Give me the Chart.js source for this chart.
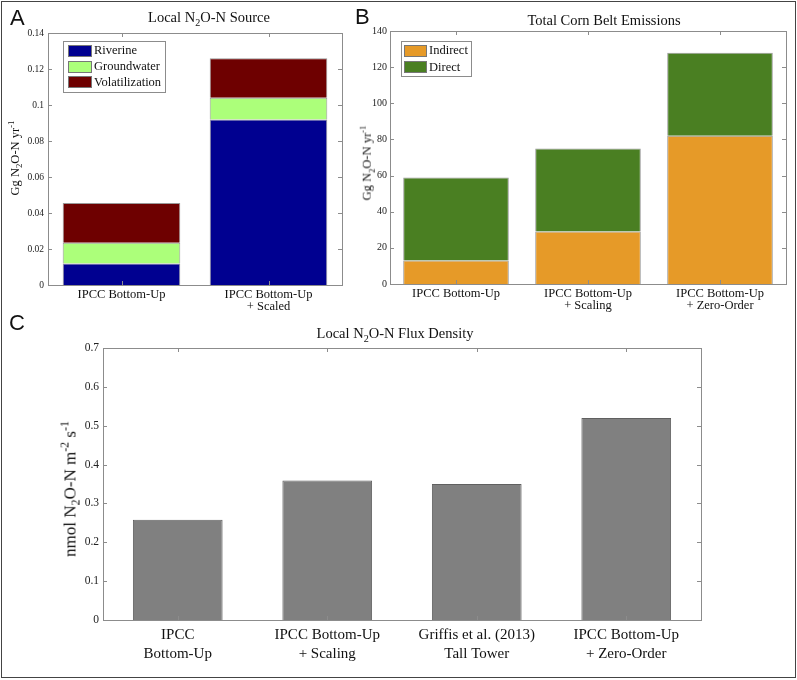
<!DOCTYPE html>
<html>
<head>
<meta charset="utf-8">
<script src="https://cdn.jsdelivr.net/npm/chart.js@4.4.0/dist/chart.umd.min.js"></script>
<style>
  body { margin: 0; background: #fff; }
  #fig { position: relative; width: 797px; height: 680px; overflow: hidden; font-family: "Liberation Serif", serif; color: #111; }
  #frame { position: absolute; left: 1px; top: 1px; width: 795px; height: 677px; box-sizing: border-box; border: 1px solid #444; }
  canvas { position: absolute; }
  .letter { position: absolute; font-family: "Liberation Sans", Arial, sans-serif; font-size: 22px; line-height: 1; }
  .ttl { position: absolute; font-size: 14.5px; line-height: 1; white-space: nowrap; transform: translateX(-50%); }
  .ylab { position: absolute; white-space: nowrap; line-height: 1; transform: translate(-50%, -50%) rotate(-90deg); }
  sub, sup { font-size: 70%; line-height: 0; }
</style>
</head>
<body>
<div id="fig">
  <div id="frame"></div>
  <canvas id="chartA" width="350" height="325" style="left:0;top:0"></canvas>
  <canvas id="chartB" width="447" height="325" style="left:350px;top:0"></canvas>
  <canvas id="chartC" width="797" height="355" style="left:0;top:325px"></canvas>

  <div class="letter" style="left:10px;top:7px">A</div>
  <div class="letter" style="left:355px;top:6px">B</div>
  <div class="letter" style="left:9px;top:312px">C</div>

  <div class="ttl" style="left:209px;top:10px">Local N<sub>2</sub>O-N Source</div>
  <div class="ttl" style="left:604px;top:13px">Total Corn Belt Emissions</div>
  <div class="ttl" style="left:395px;top:326px">Local N<sub>2</sub>O-N Flux Density</div>

  <div class="ylab" style="left:15px;top:158px;font-size:12.5px">Gg N<sub>2</sub>O-N yr<sup>-1</sup></div>
  <div class="ylab" style="left:367px;top:163px;font-size:12.5px">Gg N<sub>2</sub>O-N yr<sup>-1</sup></div>
  <div class="ylab" style="left:70px;top:489px;font-size:17px">nmol N<sub>2</sub>O-N m<sup>-2</sup> s<sup>-1</sup></div>
</div>
<script>
// Panel A - local source
const catsA = ['IPCC Bottom-Up', ['IPCC Bottom-Up', '+ Scaled']];
const riverine = [0.012, 0.092];
const groundwater = [0.0115, 0.012];
const volatilization = [0.022, 0.022];
const ticksA = [0, 0.02, 0.04, 0.06, 0.08, 0.1, 0.12, 0.14];

// Panel B - corn belt totals
const catsB = ['IPCC Bottom-Up', ['IPCC Bottom-Up', '+ Scaling'], ['IPCC Bottom-Up', '+ Zero-Order']];
const indirect = [13, 29, 82];
const direct = [46, 46, 46];
const ticksB = [0, 20, 40, 60, 80, 100, 120, 140];

// Panel C - flux density
const catsC = [['IPCC', 'Bottom-Up'], ['IPCC Bottom-Up', '+ Scaling'], ['Griffis et al. (2013)', 'Tall Tower'], ['IPCC Bottom-Up', '+ Zero-Order']];
const flux = [0.258, 0.359, 0.35, 0.52];
const ticksC = [0, 0.1, 0.2, 0.3, 0.4, 0.5, 0.6, 0.7];

const serif = 'Liberation Serif';

// matlab style box with inward ticks
const framePlugin = {
  id: 'frame',
  afterDatasetsDraw(chart) {
    const { ctx, chartArea: a, scales: { x, y } } = chart;
    ctx.save();
    ctx.strokeStyle = '#8c8c8c';
    ctx.lineWidth = 1;
    ctx.beginPath();
    y.ticks.forEach((t, i) => {
      const py = Math.round(y.getPixelForTick(i)) + 0.5;
      ctx.moveTo(a.left, py); ctx.lineTo(a.left + 4, py);
      ctx.moveTo(a.right, py); ctx.lineTo(a.right - 4, py);
    });
    x.ticks.forEach((t, i) => {
      const px = Math.round(x.getPixelForTick(i)) + 0.5;
      ctx.moveTo(px, a.top); ctx.lineTo(px, a.top + 4);
      ctx.moveTo(px, a.bottom); ctx.lineTo(px, a.bottom - 4);
    });
    ctx.stroke();
    ctx.strokeRect(Math.round(a.left) + 0.5, Math.round(a.top) + 0.5,
      Math.round(a.right - a.left), Math.round(a.bottom - a.top));
    ctx.restore();
  }
};

// boxed legend inside the plot
const boxLegend = {
  id: 'boxLegend',
  afterDatasetsDraw(chart, args, o) {
    if (!o.show) return;
    const { ctx, chartArea: a } = chart;
    const x0 = Math.round(a.left + o.dx), y0 = Math.round(a.top + o.dy);
    ctx.save();
    ctx.fillStyle = '#fff';
    ctx.fillRect(x0, y0, o.w, o.h);
    ctx.strokeStyle = '#8c8c8c';
    ctx.lineWidth = 1;
    ctx.strokeRect(x0 + 0.5, y0 + 0.5, o.w, o.h);
    ctx.font = `12.5px "${serif}"`;
    ctx.textBaseline = 'middle';
    chart.data.datasets.forEach((d, i) => {
      const cy = y0 + o.first + i * o.row;
      ctx.fillStyle = d.backgroundColor;
      ctx.fillRect(x0 + o.sx, Math.round(cy - o.sh / 2), o.sw, o.sh);
      ctx.strokeStyle = '#777';
      ctx.strokeRect(x0 + o.sx + 0.5, Math.round(cy - o.sh / 2) + 0.5, o.sw - 1, o.sh - 1);
      ctx.fillStyle = '#111';
      ctx.fillText(d.label, x0 + o.tx, cy + 0.5);
    });
    ctx.restore();
  }
};

function makeOpts(p) {
  return {
    responsive: false,
    animation: false,
    layout: { padding: p.pad },
    plugins: {
      legend: { display: false },
      tooltip: { enabled: false },
      title: { display: false },
      boxLegend: p.legend || { show: false }
    },
    scales: {
      x: {
        stacked: true,
        grid: { display: false, drawTicks: false },
        border: { display: false },
        ticks: {
          color: '#111', padding: p.catPad, maxRotation: 0, autoSkip: false,
          font: { family: serif, size: p.catSize, lineHeight: p.catLine }
        },
        afterFit: s => { s.height = p.xHeight; }
      },
      y: {
        stacked: true,
        min: 0,
        max: p.yTicks[p.yTicks.length - 1],
        grid: { display: false, drawTicks: false },
        border: { display: false },
        afterBuildTicks: s => { s.ticks = p.yTicks.map(v => ({ value: v })); },
        ticks: {
          color: '#222', padding: p.tickPad,
          font: { family: serif, size: p.tickSize },
          callback: v => String(v)
        },
        afterFit: s => { s.width = p.yWidth; }
      }
    }
  };
}

new Chart(document.getElementById('chartA'), {
  type: 'bar',
  data: {
    labels: catsA,
    datasets: [
      { label: 'Riverine', data: riverine, backgroundColor: '#000090' },
      { label: 'Groundwater', data: groundwater, backgroundColor: '#acff7a' },
      { label: 'Volatilization', data: volatilization, backgroundColor: '#6e0000' }
    ].map(d => Object.assign(d, { borderColor: 'rgba(70,70,70,0.55)', borderWidth: 1, categoryPercentage: 1, barPercentage: 0.8 }))
  },
  options: makeOpts({
    pad: { top: 33, right: 8, left: 0, bottom: 0 },
    yTicks: ticksA, yWidth: 48, xHeight: 40,
    tickSize: 9.5, tickPad: 4,
    catSize: 12.5, catLine: 1.0, catPad: 3,
    legend: { show: true, dx: 15, dy: 8, w: 102, h: 51, first: 9.7, row: 15.8, sx: 5, sw: 24, sh: 12, tx: 31 }
  }),
  plugins: [framePlugin, boxLegend]
});

new Chart(document.getElementById('chartB'), {
  type: 'bar',
  data: {
    labels: catsB,
    datasets: [
      { label: 'Indirect', data: indirect, backgroundColor: '#e69a28' },
      { label: 'Direct', data: direct, backgroundColor: '#4a7f22' }
    ].map(d => Object.assign(d, { borderColor: 'rgba(70,70,70,0.55)', borderWidth: 1, categoryPercentage: 1, barPercentage: 0.8 }))
  },
  options: makeOpts({
    pad: { top: 31, right: 11, left: 0, bottom: 0 },
    yTicks: ticksB, yWidth: 40, xHeight: 41,
    tickSize: 10, tickPad: 3,
    catSize: 12.5, catLine: 1.0, catPad: 3,
    legend: { show: true, dx: 11, dy: 10, w: 70, h: 35, first: 9.5, row: 16.5, sx: 3, sw: 23, sh: 12, tx: 28 }
  }),
  plugins: [framePlugin, boxLegend]
});

new Chart(document.getElementById('chartC'), {
  type: 'bar',
  data: {
    labels: catsC,
    datasets: [
      { label: 'Flux', data: flux, backgroundColor: '#808080', borderColor: '#606060', borderWidth: 1, categoryPercentage: 1, barPercentage: 0.6 }
    ]
  },
  options: makeOpts({
    pad: { top: 23, right: 96, left: 0, bottom: 0 },
    yTicks: ticksC, yWidth: 103, xHeight: 60,
    tickSize: 11.5, tickPad: 4,
    catSize: 15, catLine: 1.3, catPad: 5
  }),
  plugins: [framePlugin]
});
</script>
</body>
</html>
